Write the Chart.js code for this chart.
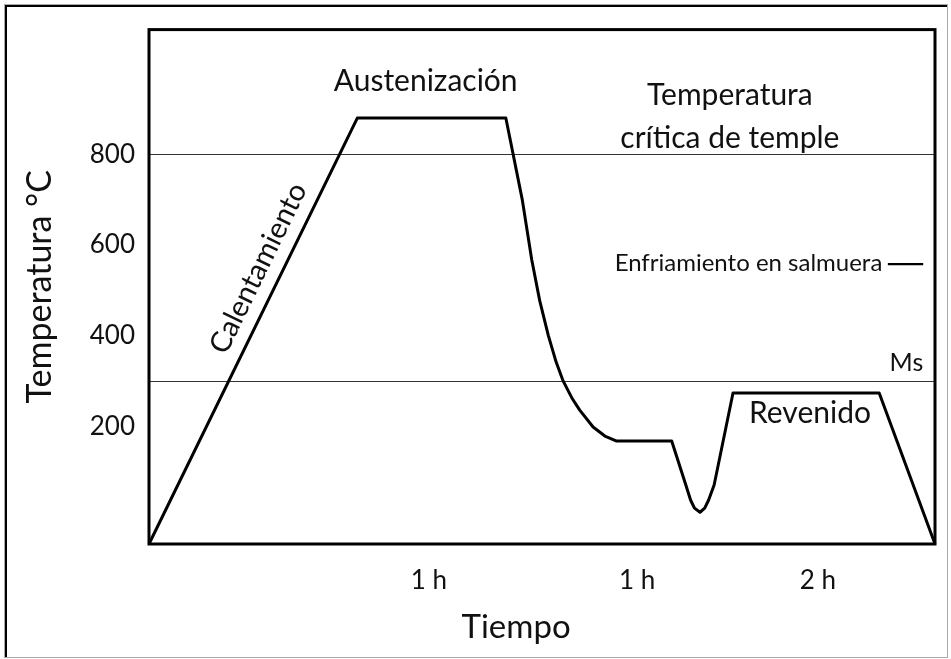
<!DOCTYPE html>
<html><head><meta charset="utf-8">
<script src="https://cdn.jsdelivr.net/npm/chart.js@4.4.0/dist/chart.umd.min.js"></script>
<style>html,body{margin:0;padding:0;background:#fff;} #wrap{width:951px;height:659px;position:relative}</style>
</head><body><div id="wrap"><canvas id="c" width="951" height="659"></canvas></div>
<script>
// Time axis in arbitrary progress units (0 = start, 100 = end of treatment)
const timeValues = [0, 26.5, 45.4, 47.5, 48.7, 49.7, 50.8, 51.8, 52.7, 53.8, 54.8, 56.5, 58.0, 59.5, 66.5, 68.3, 68.9, 69.4, 70.1, 70.7, 71.2, 71.9, 74.3, 92.9, 100];
// Temperature in °C
const temperatureValues = [-59, 880, 880, 699, 567, 478, 401, 342, 300, 263, 236, 199, 179, 168, 168, 71, 38, 20, 11, 20, 38, 71, 274, 274, -59];
const yTickValues = [200, 400, 600, 800];
const refLineValues = [800, 300]; // temperatura crítica de temple, Ms
const xTickValues = [35.6, 62.1, 85.1];
const xTickLabels = ['1 h', '1 h', '2 h'];
const annotationTexts = ['Austenización', 'Temperatura', 'crítica de temple', 'Enfriamiento en salmuera', 'Ms', 'Revenido', 'Calentamiento'];
const xAxisTitle = 'Tiempo';

const FONT = 'Lato, "Open Sans", sans-serif';
// placement of the annotation texts (in data coordinates)
const annotationPlacement = [
  {x: 35.2, y: 961, size: 30, align: 'center'},
  {x: 73.9, y: 930, size: 30, align: 'center'},
  {x: 73.9, y: 835, size: 30, align: 'center'},
  {x: 93.3, y: 560, size: 24, align: 'right'},
  {x: 98.5, y: 340, size: 25, align: 'right'},
  {x: 84.1, y: 230, size: 30, align: 'center'},
  {x: 13.9, y: 549, size: 29, align: 'center', along: [0, 1]}
];

const decorPlugin = {
  id: 'decor',
  afterDraw(chart) {
    const {ctx, chartArea: a, scales: {x, y}} = chart;
    ctx.save();
    // plot frame
    ctx.strokeStyle = '#000';
    ctx.lineWidth = 3;
    ctx.strokeRect(a.left, a.top, a.right - a.left, a.bottom - a.top);
    // texts
    ctx.fillStyle = '#111';
    annotationTexts.forEach((t, i) => {
      const p = annotationPlacement[i];
      const px = x.getPixelForValue(p.x), py = y.getPixelForValue(p.y);
      ctx.save();
      ctx.font = p.size + 'px ' + FONT;
      ctx.textAlign = p.align;
      ctx.textBaseline = 'middle';
      ctx.translate(px, py);
      if (p.along) {
        const i0 = p.along[0], i1 = p.along[1];
        const ang = Math.atan2(y.getPixelForValue(temperatureValues[i1]) - y.getPixelForValue(temperatureValues[i0]),
                               x.getPixelForValue(timeValues[i1]) - x.getPixelForValue(timeValues[i0]));
        ctx.rotate(ang);
      }
      ctx.fillText(t, 0, 0);
      ctx.restore();
    });
    // x axis title (set off-centre, as in the original)
    ctx.font = '33px ' + FONT;
    ctx.textAlign = 'center';
    ctx.textBaseline = 'middle';
    ctx.fillText(xAxisTitle, x.getPixelForValue(46.7), 627);
    // dash after the salmuera label
    ctx.strokeStyle = '#000';
    ctx.lineWidth = 2.2;
    ctx.beginPath();
    ctx.moveTo(x.getPixelForValue(94.0), y.getPixelForValue(558));
    ctx.lineTo(x.getPixelForValue(98.5), y.getPixelForValue(558));
    ctx.stroke();
    // outer frame of the figure
    ctx.strokeStyle = '#aaa';
    ctx.lineWidth = 1;
    ctx.strokeRect(4.5, 4.5, 943, 653);
    ctx.strokeStyle = '#000';
    ctx.lineWidth = 2;
    ctx.beginPath();
    ctx.moveTo(6, 657); ctx.lineTo(6, 6); ctx.lineTo(947, 6);
    ctx.stroke();
    ctx.restore();
  }
};

new Chart(document.getElementById('c'), {
  type: 'line',
  data: {
    datasets: [{
      data: timeValues.map((t, i) => ({x: t, y: temperatureValues[i]})),
      borderColor: '#000',
      borderWidth: 3,
      pointRadius: 0,
      tension: 0,
      borderJoinStyle: 'round',
      fill: false,
      clip: 4
    }]
  },
  options: {
    responsive: false,
    animation: false,
    devicePixelRatio: 1,
    layout: {padding: {top: 29, right: 16, left: 0, bottom: 0}},
    plugins: {legend: {display: false}, tooltip: {enabled: false}},
    scales: {
      x: {
        type: 'linear', min: 0, max: 100,
        afterFit: s => { s.height = 115; },
        afterBuildTicks: s => { s.ticks = xTickValues.map(v => ({value: v})); },
        ticks: {
          padding: 21, color: '#111', font: {family: FONT, size: 26},
          callback: (v, i) => xTickLabels[i], autoSkip: false, maxRotation: 0
        },
        grid: {display: false, drawTicks: false},
        border: {display: false},
        title: {display: false}
      },
      y: {
        type: 'linear', min: -59, max: 1075,
        afterFit: s => { s.width = 149; },
        afterBuildTicks: s => { s.ticks = yTickValues.concat(refLineValues).sort((a, b) => a - b).filter((v, i, arr) => arr.indexOf(v) === i).map(v => ({value: v})); },
        ticks: {
          padding: 14, color: '#111', font: {family: FONT, size: 26},
          callback: v => yTickValues.includes(v) ? String(v) : ''
        },
        grid: {
          drawTicks: false, lineWidth: 1,
          color: c => (c.tick && refLineValues.includes(c.tick.value)) ? '#333' : 'rgba(0,0,0,0)'
        },
        border: {display: false},
        title: {display: true, text: 'Temperatura °C', color: '#111', font: {family: FONT, size: 34}, padding: {top: 20, bottom: 0}}
      }
    }
  },
  plugins: [decorPlugin]
});
</script>
</body></html>
